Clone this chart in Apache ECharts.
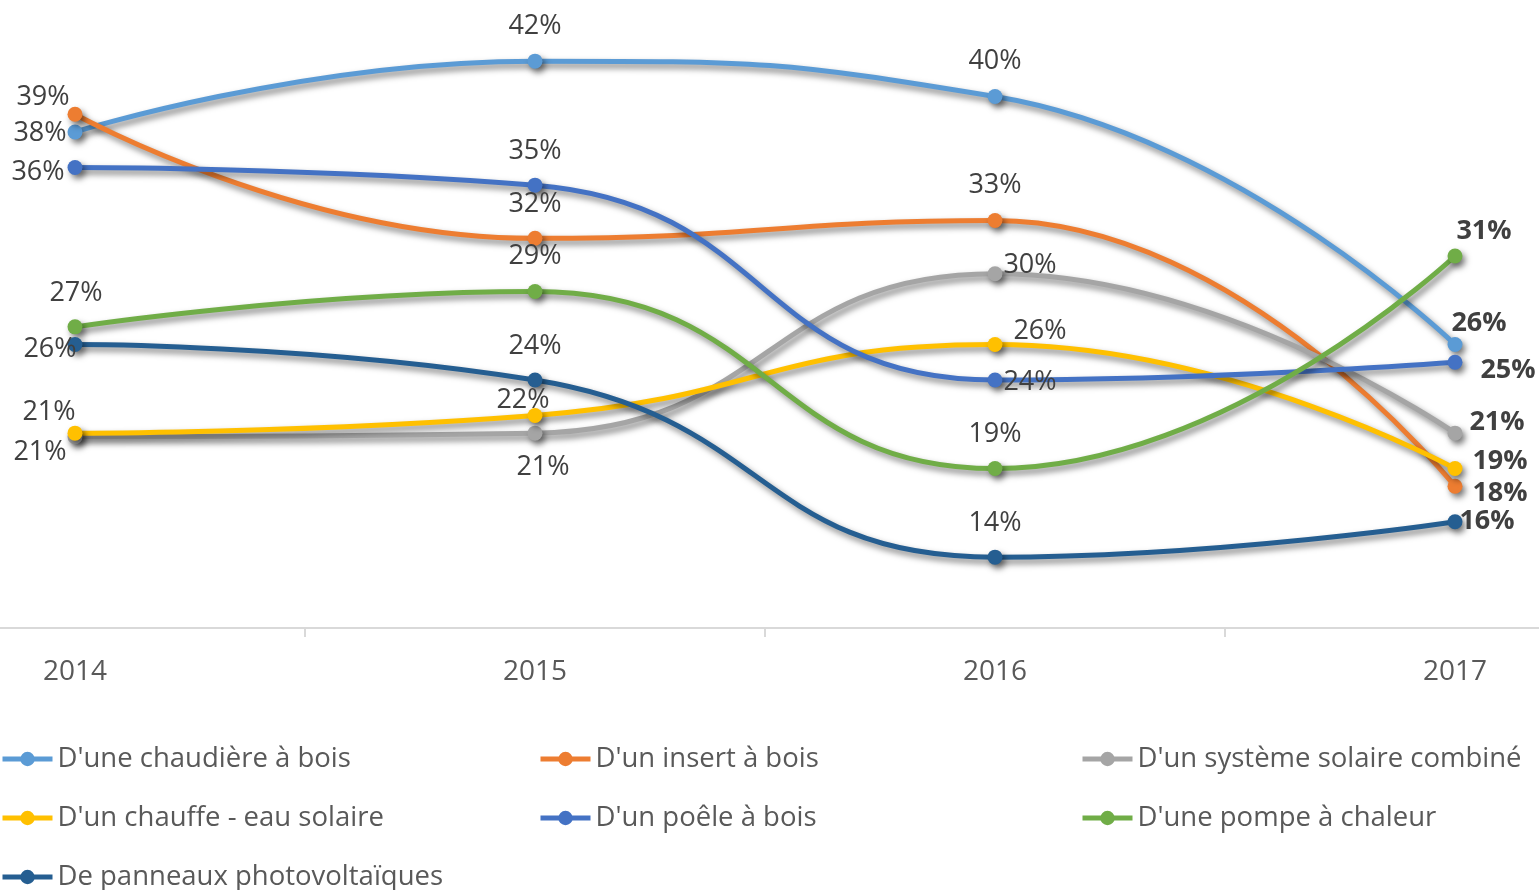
<!DOCTYPE html>
<html>
<head>
<meta charset="utf-8">
<script src="https://cdn.jsdelivr.net/npm/echarts@6/dist/echarts.min.js"></script>
<style>
  html, body { margin: 0; padding: 0; background: #fff; overflow: hidden; }
  #wrap { width: 1539px; height: 890px; overflow: hidden; position: relative; }
  /* plot area is wider than the window: first and last category bands are cut off */
  #chart { width: 1840px; height: 890px; position: absolute; left: -155px; top: 0; }
</style>
</head>
<body>
<div id="wrap"><div id="chart"></div></div>
<script>
var years = ['2014', '2015', '2016', '2017'];

var names = [
  "D'une chaudière à bois",
  "D'un insert à bois",
  "D'un système solaire combiné",
  "D'un chauffe - eau solaire",
  "D'un poêle à bois",
  "D'une pompe à chaleur",
  "De panneaux photovoltaïques"
];

var chaudiere = [38, 42, 40, 26];
var insert = [39, 32, 33, 18];
var solaireCombine = [20.8, 21, 30, 21];
var chauffeEau = [21, 22, 26, 19];
var poele = [36, 35, 24, 25];
var pompe = [27, 29, 19, 31];
var photovoltaique = [26, 24, 14, 16];

var colors = ['#5b9bd5', '#ed7d31', '#a5a5a5', '#ffc000', '#4472c4', '#70ad47', '#255e91'];

// label offsets from each point, [dx, dy] per year
var labelOffsets = [
  [[-35, 1], [0, -35], [0, -35], [24, -21]],
  [[-32, -17], [0, -34], [0, -35], [45, 7]],
  [[-35, 16], [8, 34], [35, -8], [42, -11]],
  [[-26, -21], [-12, -15], [45, -13], [45, -7]],
  [[-37, 5], [0, -34], [35, 2], [53, 8]],
  [[1, -34], [0, -35], [0, -34], [29, -25]],
  [[-25, 5], [0, -34], [0, -34], [32, 0]]
];

var values = [chaudiere, insert, solaireCombine, chauffeEau, poele, pompe, photovoltaique];

var shadow = {
  shadowColor: 'rgba(0,0,0,0.5)',
  shadowBlur: 6,
  shadowOffsetX: 3,
  shadowOffsetY: 4
};

var series = values.map(function(vals, s) {
  return {
    name: names[s],
    type: 'line',
    smooth: 0.5,
    symbol: 'circle',
    symbolSize: 15,
    color: colors[s],
    lineStyle: Object.assign({ width: 5, color: colors[s] }, shadow),
    itemStyle: Object.assign({ color: colors[s] }, shadow),
    data: vals.map(function(v, i) {
      return {
        value: v,
        label: {
          show: true,
          position: 'inside',
          offset: labelOffsets[s][i],
          fontWeight: i === 3 ? 'bold' : 'normal',
          formatter: function(p) { return Math.round(p.value) + '%'; }
        }
      };
    }),
    label: {
      fontFamily: 'Open Sans',
      fontSize: 27,
      color: '#404040'
    },
    emphasis: { disabled: true }
  };
});

var legendBase = {
  orient: 'vertical',
  itemWidth: 50,
  itemHeight: 18,
  itemGap: 31,
  height: 200,
  padding: 0,
  lineStyle: { width: 5, shadowBlur: 0, shadowOffsetX: 0, shadowOffsetY: 0 },
  itemStyle: { shadowBlur: 0, shadowOffsetX: 0, shadowOffsetY: 0 },
  textStyle: { fontFamily: 'Open Sans', fontSize: 27.5, color: '#595959' },
  selectedMode: false
};

var dx = 155; // chart div is shifted left by this much

var chart = echarts.init(document.getElementById('chart'), null, { renderer: 'canvas' });
chart.setOption({
  animation: false,
  backgroundColor: '#fff',
  grid: { left: 0, right: 0, top: 8, bottom: 262 },
  xAxis: {
    type: 'category',
    data: years,
    boundaryGap: true,
    axisLine: { lineStyle: { color: '#d9d9d9', width: 2 } },
    axisTick: { show: true, length: 9, lineStyle: { color: '#d9d9d9', width: 2 } },
    axisLabel: { margin: 30, fontFamily: 'Open Sans', fontSize: 28, color: '#595959' },
    splitLine: { show: false }
  },
  yAxis: {
    type: 'value',
    min: 10,
    max: 45,
    show: false,
    splitLine: { show: false }
  },
  legend: [
    Object.assign({}, legendBase, { left: dx + 0, top: 745, data: [names[0], names[3], names[6]] }),
    Object.assign({}, legendBase, { left: dx + 538, top: 745, data: [names[1], names[4]] }),
    Object.assign({}, legendBase, { left: dx + 1080, top: 745, data: [names[2], names[5]] })
  ],
  series: series
});
</script>
</body>
</html>
